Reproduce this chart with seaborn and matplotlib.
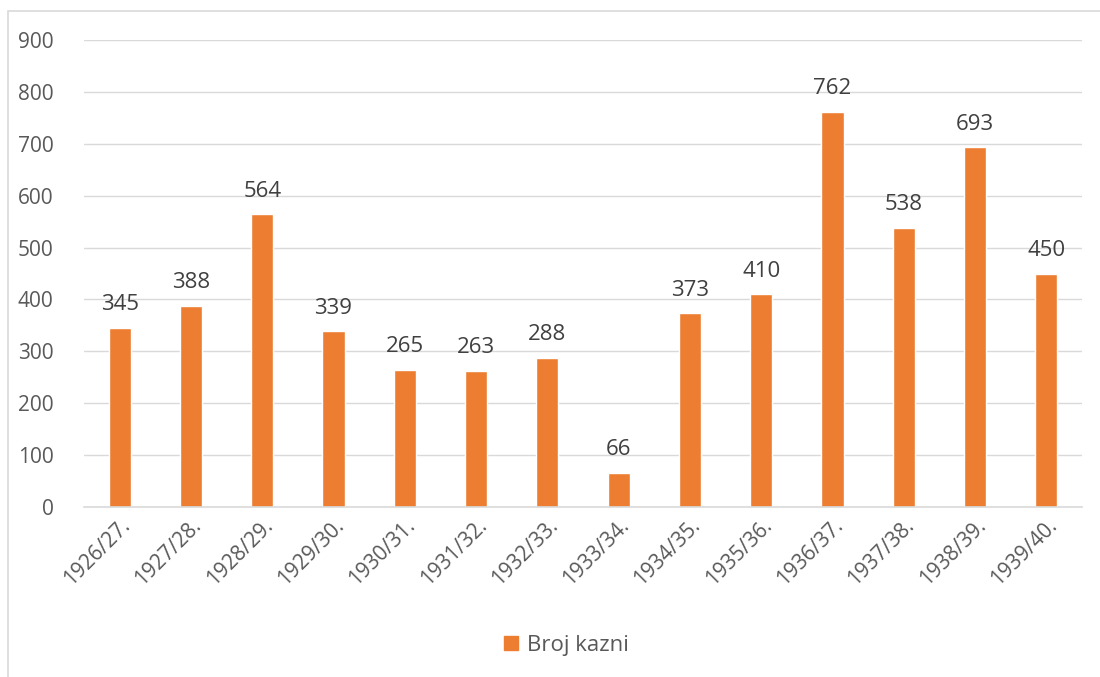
import matplotlib
matplotlib.use("Agg")
import matplotlib.pyplot as plt
import seaborn as sns
import pandas as pd
from matplotlib.patches import Rectangle, Patch

seasons = ["1926/27.", "1927/28.", "1928/29.", "1929/30.", "1930/31.", "1931/32.",
           "1932/33.", "1933/34.", "1934/35.", "1935/36.", "1936/37.", "1937/38.",
           "1938/39.", "1939/40."]
fines = [345, 388, 564, 339, 265, 263, 288, 66, 373, 410, 762, 538, 693, 450]
series_name = "Broj kazni"

df = pd.DataFrame({"season": seasons, "value": fines})

sns.set_style("white")
plt.rcParams["font.family"] = ["Open Sans", "DejaVu Sans"]

text_col = "#595959"
bar_col = "#ED7D31"

fig = plt.figure(figsize=(11, 6.77), dpi=100)
ax = fig.add_axes([0.0764, 0.2511, 0.9072, 0.6898])

sns.barplot(data=df, x="season", y="value", color=bar_col, width=0.31,
            saturation=1, ax=ax)

ax.set_ylim(0, 900)
ax.set_yticks(range(0, 1000, 100))
ax.set_xlim(-0.5, len(seasons) - 0.5)
ax.grid(axis="y", color="#d9d9d9", linewidth=1)
ax.set_axisbelow(True)
for s in ["top", "right", "left"]:
    ax.spines[s].set_visible(False)
ax.spines["bottom"].set_color("#d9d9d9")
ax.spines["bottom"].set_linewidth(1.2)
ax.set_xlabel("")
ax.set_ylabel("")
ax.tick_params(axis="both", length=0, colors=text_col, labelsize=15)
ax.tick_params(axis="y", pad=22)
ax.tick_params(axis="x", pad=6)
plt.setp(ax.get_xticklabels(), rotation=45, ha="right", rotation_mode="anchor")

for c in ax.containers:
    ax.bar_label(c, fmt="%d", padding=9, fontsize=16, color="#404040")

# chart border
fig.patches.append(Rectangle((8 / 1100, -0.1), 1.2, 1 - 11 / 677 + 0.1,
                             transform=fig.transFigure, fill=False,
                             edgecolor="#d9d9d9", linewidth=1.2))

fig.legend(handles=[Patch(color=bar_col, label=series_name)],
           loc="center", bbox_to_anchor=(0.515, 1 - 645 / 677), frameon=False,
           fontsize=16, labelcolor=text_col, handlelength=0.6, handleheight=0.6,
           handletextpad=0.4)

fig.savefig("out.png", dpi=100)
